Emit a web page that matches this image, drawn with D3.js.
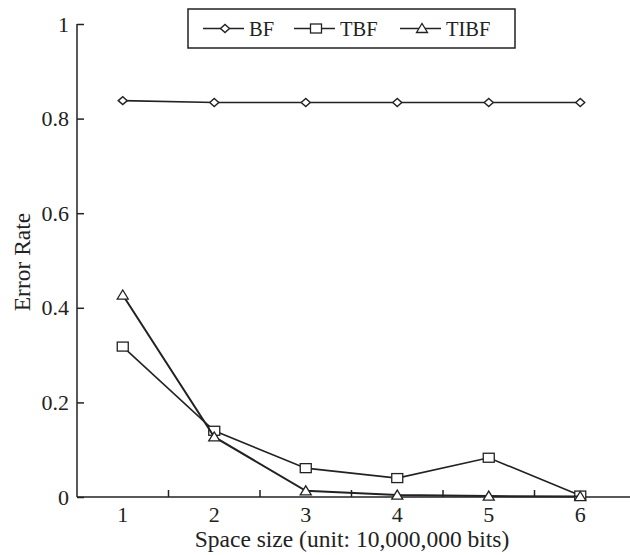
<!DOCTYPE html>
<html><head><meta charset="utf-8">
<script src="https://cdn.jsdelivr.net/npm/d3@7/dist/d3.min.js"></script>
<style>body{margin:0;background:#fff}svg{display:block}text{font-family:"Liberation Serif","Times New Roman",serif;fill:#222}</style>
</head><body>
<svg id="c" width="630" height="555"></svg>
<script>
const categories = [1, 2, 3, 4, 5, 6];
const bf   = [0.838, 0.834, 0.834, 0.834, 0.834, 0.834];
const tbf  = [0.318, 0.140, 0.061, 0.040, 0.083, 0.003];
const tibf = [0.427, 0.127, 0.013, 0.004, 0.002, 0.001];
const yTicks = [0, 0.2, 0.4, 0.6, 0.8, 1];
const seriesNames = ["BF", "TBF", "TIBF"];
const markers = ["diamond", "square", "triangle"];

const svg = d3.select("#c");
const x = d3.scaleBand().domain(categories).range([77, 626]);
const y = d3.scaleLinear().domain([0, 1]).range([497, 24]);
const ink = "#222";
const tickFont = 22, titleFont = 23.5;

// y axis
const yAxis = d3.axisRight(y).tickValues(yTicks).tickSize(7).tickFormat(d => d3.format("")(d));
const gy = svg.append("g").attr("transform", "translate(77,0)").call(yAxis);
gy.select(".domain").remove();
gy.selectAll(".tick line").attr("stroke", ink).attr("stroke-width", 1.5);
gy.selectAll(".tick text").attr("x", -8).attr("text-anchor", "end").attr("font-size", tickFont)
  .style("font-family", '"Liberation Serif",serif').attr("fill", ink);
svg.append("line").attr("x1", 77).attr("x2", 77).attr("y1", y(1)).attr("y2", y(0))
  .attr("stroke", ink).attr("stroke-width", 1.5);

// x axis
const gx = svg.append("g").attr("transform", `translate(0,${y(0)})`)
  .call(d3.axisBottom(x).tickSize(0).tickPadding(9));
gx.select(".domain").remove();
gx.selectAll(".tick text").attr("font-size", tickFont).style("font-family", '"Liberation Serif",serif').attr("fill", ink);
svg.append("line").attr("x1", 77).attr("x2", 630).attr("y1", y(0)).attr("y2", y(0))
  .attr("stroke", ink).attr("stroke-width", 1.5);
categories.slice(0, -1).forEach(c => {
  const xb = x(c) + x.bandwidth();
  svg.append("line").attr("x1", xb).attr("x2", xb).attr("y1", y(0)).attr("y2", y(0) - 7)
    .attr("stroke", ink).attr("stroke-width", 1.5);
});

// axis titles
svg.append("text").attr("x", 352).attr("y", 547).attr("text-anchor", "middle")
  .attr("font-size", titleFont).text("Space size (unit: 10,000,000 bits)");
svg.append("text").attr("transform", "translate(30,262) rotate(-90)").attr("text-anchor", "middle")
  .attr("font-size", titleFont).text("Error Rate");

function marker(g, type, cx, cy) {
  if (type === "diamond") {
    g.append("path").attr("d", `M${cx-4.5},${cy}L${cx},${cy-4}L${cx+4.5},${cy}L${cx},${cy+4}Z`)
      .attr("fill", "#fff").attr("stroke", ink).attr("stroke-width", 1.4);
  } else if (type === "square") {
    g.append("rect").attr("x", cx-5.5).attr("y", cy-4.5).attr("width", 11).attr("height", 9)
      .attr("fill", "#fff").attr("stroke", ink).attr("stroke-width", 1.3);
  } else {
    g.append("path").attr("d", `M${cx-5.5},${cy+4}L${cx},${cy-5}L${cx+5.5},${cy+4}Z`)
      .attr("fill", "#fff").attr("stroke", ink).attr("stroke-width", 1.3);
  }
}

const data = [bf, tbf, tibf];
const cx = c => x(c) + x.bandwidth() / 2;
const line = d3.line().x((d, i) => cx(categories[i])).y(d => y(d));
const widths = [1.6, 1.6, 2];
data.forEach((vals, si) => {
  const g = svg.append("g");
  g.append("path").attr("d", line(vals)).attr("fill", "none").attr("stroke", ink).attr("stroke-width", widths[si]);
  vals.forEach((v, i) => marker(g, markers[si], cx(categories[i]), y(v)));
});

// legend
const lg = svg.append("g");
lg.append("rect").attr("x", 188).attr("y", 9).attr("width", 327).attr("height", 39)
  .attr("fill", "#fff").attr("stroke", ink).attr("stroke-width", 1.5);
const lx = [203, 294, 400];
seriesNames.forEach((n, i) => {
  const ly = 28.5;
  lg.append("line").attr("x1", lx[i]).attr("x2", lx[i] + 41).attr("y1", ly).attr("y2", ly)
    .attr("stroke", ink).attr("stroke-width", 1.5);
  marker(lg, markers[i], lx[i] + 22, ly);
  lg.append("text").attr("x", lx[i] + 46).attr("y", ly + 7).attr("font-size", 20.5).text(n);
});
</script>
</body></html>
